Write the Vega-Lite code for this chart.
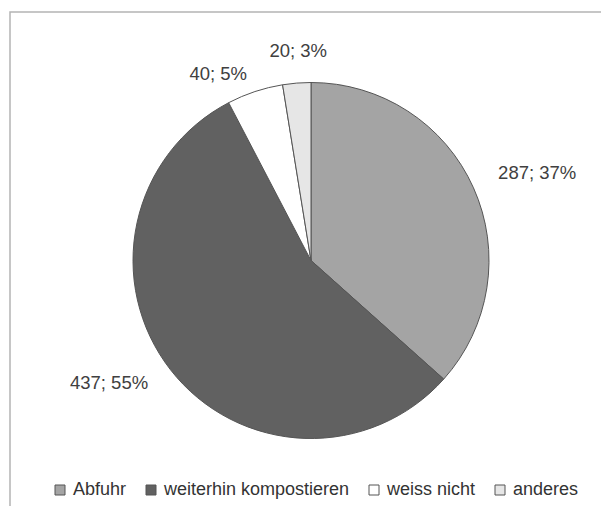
{
  "$schema": "https://vega.github.io/schema/vega-lite/v6.json",
  "autosize": {"type": "none"},
  "width": 602,
  "height": 497,
  "padding": {"left": 10, "top": 12, "right": 0, "bottom": 0},
  "background": "#ffffff",
  "view": {"stroke": "#b4b4b4", "strokeWidth": 1.5, "fill": "#ffffff"},
  "config": {
    "font": "Liberation Sans"
  },
  "data": {
    "values": [
      {"k": "Abfuhr", "n": 287, "o": 1, "label": "287; 37%"},
      {"k": "weiterhin kompostieren", "n": 437, "o": 2, "label": "437; 55%"},
      {"k": "weiss nicht", "n": 40, "o": 3, "label": "40; 5%"},
      {"k": "anderes", "n": 20, "o": 4, "label": "20; 3%"}
    ]
  },
  "encoding": {
    "theta": {"field": "n", "type": "quantitative", "stack": true},
    "order": {"field": "o", "type": "quantitative", "sort": "ascending"}
  },
  "layer": [
    {
      "mark": {"type": "arc", "outerRadius": 178, "stroke": "#555555", "strokeWidth": 1},
      "encoding": {
        "color": {
          "field": "k",
          "type": "nominal",
          "sort": ["Abfuhr", "weiterhin kompostieren", "weiss nicht", "anderes"],
          "scale": {
            "domain": ["Abfuhr", "weiterhin kompostieren", "weiss nicht", "anderes"],
            "range": ["#a4a4a4", "#616161", "#ffffff", "#e6e6e6"]
          },
          "legend": {
            "title": null,
            "orient": "none",
            "direction": "horizontal",
            "columns": 4,
            "legendX": 41,
            "legendY": 469,
            "padding": 0,
            "symbolType": "square",
            "symbolSize": 100,
            "symbolStrokeColor": "#555555",
            "symbolStrokeWidth": 1,
            "symbolOpacity": 1,
            "labelFont": "Liberation Sans",
            "labelFontSize": 18,
            "labelColor": "#333333",
            "labelOffset": 4,
            "columnPadding": 15,
            "labelLimit": 400
          }
        }
      }
    },
    {
      "mark": {"type": "text", "radius": 205, "align": "left", "baseline": "middle", "dy": -4, "fontSize": 18.5, "font": "Liberation Sans", "fill": "#404040"},
      "encoding": {
        "detail": {"field": "k"},
        "text": {"condition": {"test": "datum.k === 'Abfuhr'", "field": "label"}, "value": ""}
      }
    },
    {
      "mark": {"type": "text", "radius": 200, "align": "right", "baseline": "middle", "dx": -5, "fontSize": 18.5, "font": "Liberation Sans", "fill": "#404040"},
      "encoding": {
        "detail": {"field": "k"},
        "text": {"condition": {"test": "datum.k === 'weiterhin kompostieren'", "field": "label"}, "value": ""}
      }
    },
    {
      "mark": {"type": "text", "radius": 196, "align": "center", "baseline": "middle", "dx": -31, "fontSize": 18.5, "font": "Liberation Sans", "fill": "#404040"},
      "encoding": {
        "detail": {"field": "k"},
        "text": {"condition": {"test": "datum.k === 'weiss nicht'", "field": "label"}, "value": ""}
      }
    },
    {
      "mark": {"type": "text", "radius": 210, "align": "center", "baseline": "middle", "dx": 4, "fontSize": 18.5, "font": "Liberation Sans", "fill": "#404040"},
      "encoding": {
        "detail": {"field": "k"},
        "text": {"condition": {"test": "datum.k === 'anderes'", "field": "label"}, "value": ""}
      }
    }
  ]
}
